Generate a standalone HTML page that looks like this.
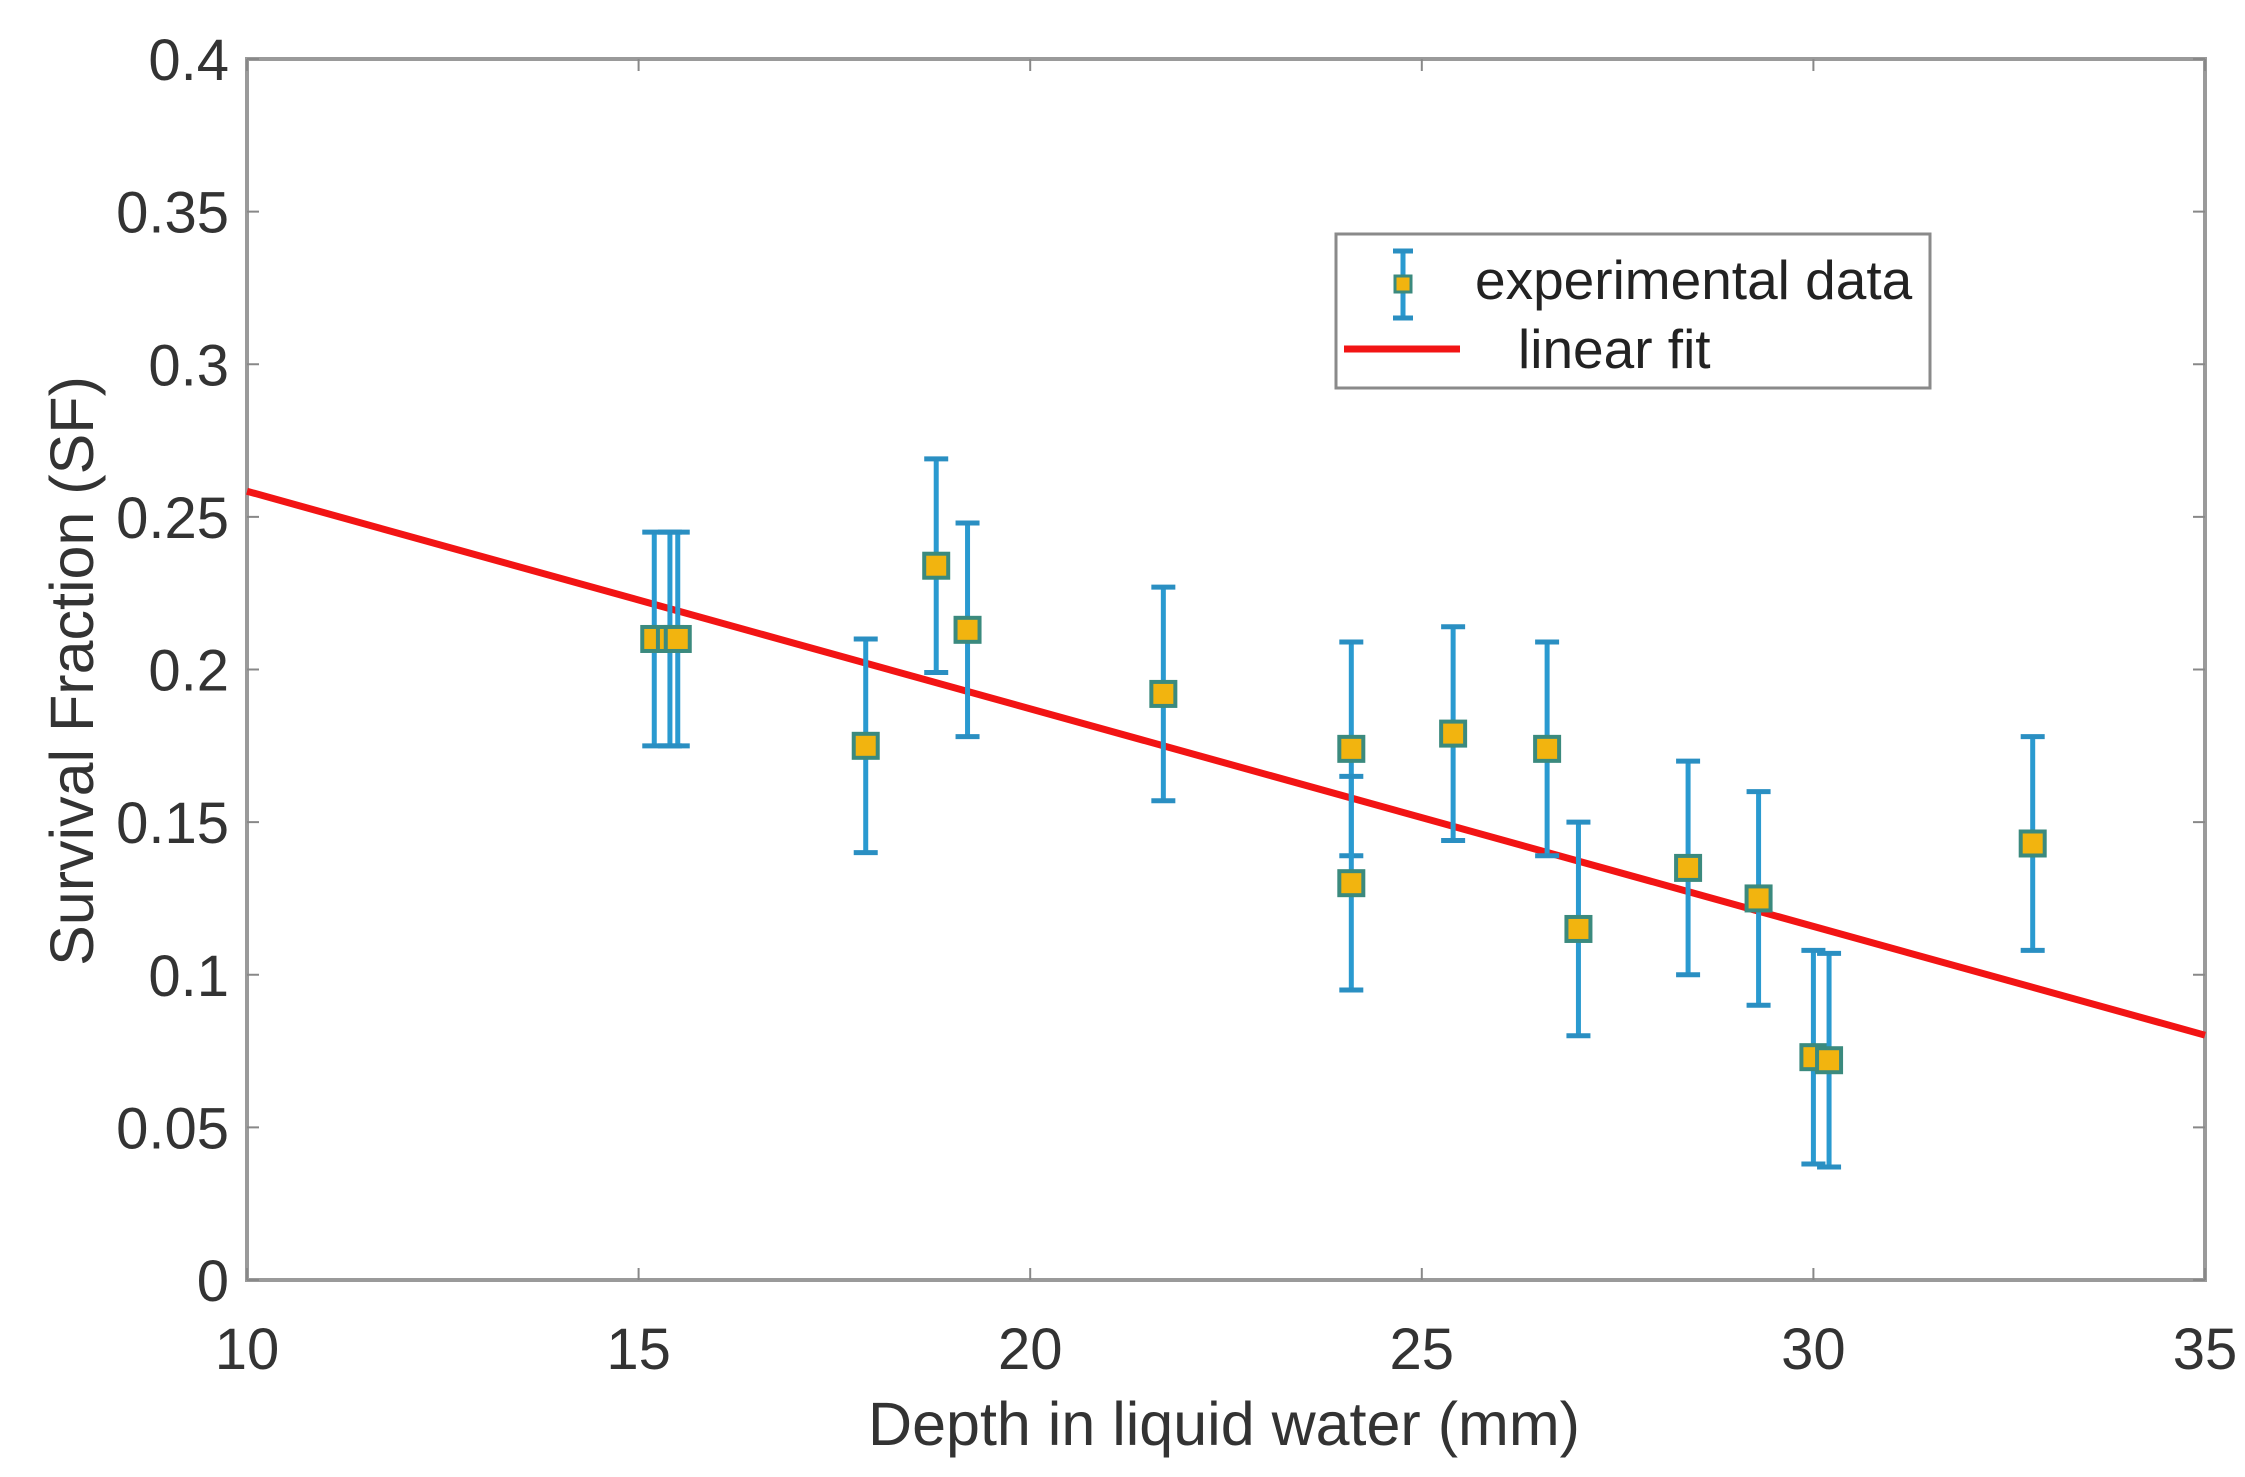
<!DOCTYPE html>
<html><head><meta charset="utf-8"><style>
html,body{margin:0;padding:0;background:#fff;}
svg{display:block;font-family:"Liberation Sans",Arial,sans-serif;}
</style></head><body>
<svg id="chart" width="2245" height="1477" viewBox="0 0 2245 1477" xmlns="http://www.w3.org/2000/svg">
<rect x="0" y="0" width="2245" height="1477" fill="#fff"/>
<g id="plot"></g>
</svg>
<script>
const depths = [15.2, 15.4, 15.5, 17.9, 18.8, 19.2, 21.7, 24.1, 24.1, 25.4, 26.6, 27.0, 28.4, 29.3, 30.0, 30.2, 32.8];
const survival = [0.210, 0.210, 0.210, 0.175, 0.234, 0.213, 0.192, 0.174, 0.130, 0.179, 0.174, 0.115, 0.135, 0.125, 0.073, 0.072, 0.143];
const errors = [0.035, 0.035, 0.035, 0.035, 0.035, 0.035, 0.035, 0.035, 0.035, 0.035, 0.035, 0.035, 0.035, 0.035, 0.035, 0.035, 0.035];
const fitX = [10, 35];
const fitY = [0.2584, 0.0802];
const xTicks = [10, 15, 20, 25, 30, 35];
const yTicks = [0, 0.05, 0.1, 0.15, 0.2, 0.25, 0.3, 0.35, 0.4];
const yTickLabels = ["0", "0.05", "0.1", "0.15", "0.2", "0.25", "0.3", "0.35", "0.4"];

const L = 247, R = 2205, T = 59, B = 1280;
const xMin = 10, xMax = 35, yMin = 0, yMax = 0.4;
function sx(v){ return L + (v - xMin) / (xMax - xMin) * (R - L); }
function sy(v){ return B - (v - yMin) / (yMax - yMin) * (B - T); }

const NS = "http://www.w3.org/2000/svg";
const g = document.getElementById('plot');
function mk(tag, attrs, parent){
  const e = document.createElementNS(NS, tag);
  for (const k in attrs) e.setAttribute(k, attrs[k]);
  (parent || g).appendChild(e);
  return e;
}

let box = mk('rect', {x:L, y:T, width:R-L, height:B-T, fill:'none', stroke:'#9a9a9a', 'stroke-width':4});



xTicks.forEach(v => {
  const x = sx(v);
  const t1 = mk('line', {x1:x, y1:B, x2:x, y2:B-12, stroke:'#888', 'stroke-width':2});
  
  
  const t2 = mk('line', {x1:x, y1:T, x2:x, y2:T+12, stroke:'#888', 'stroke-width':2});
  
  
  const tx = mk('text', {x:x, y:1369, 'text-anchor':'middle', 'font-size':58, fill:'#333'});
  tx.textContent = String(v);
  
  
});
yTicks.forEach((v, i) => {
  const y = sy(v);
  const t1 = mk('line', {x1:L, y1:y, x2:L+12, y2:y, stroke:'#888', 'stroke-width':2});
  
  
  const t2 = mk('line', {x1:R, y1:y, x2:R-12, y2:y, stroke:'#888', 'stroke-width':2});
  
  
  const tx = mk('text', {x:L-18, y:y+21, 'text-anchor':'end', 'font-size':58, fill:'#333'});
  tx.textContent = yTickLabels[i];
  
  
});

const xt = mk('text', {x:1224, y:1445, 'text-anchor':'middle', 'font-size':61, fill:'#333'});
xt.textContent = 'Depth in liquid water (mm)';


const yt = mk('text', {x:0, y:0, 'text-anchor':'middle', 'font-size':61, fill:'#333', transform:'translate(93,671) rotate(-90)'});
yt.textContent = 'Survival Fraction (SF)';



const fl = mk('line', {x1:sx(fitX[0]), y1:sy(fitY[0]), x2:sx(fitX[1]), y2:sy(fitY[1]), stroke:'#f21414', 'stroke-width':7});



depths.forEach((d, i) => {
  const x = sx(d), y = sy(survival[i]);
  const yt1 = sy(survival[i] + errors[i]), yb1 = sy(survival[i] - errors[i]);
  const eg = mk('g', {});
  
  
  mk('line', {x1:x, y1:yt1, x2:x, y2:yb1, stroke:'#2a9ad0', 'stroke-width':5}, eg);
  mk('line', {x1:x-12, y1:yt1, x2:x+12, y2:yt1, stroke:'#2a8fc2', 'stroke-width':5}, eg);
  mk('line', {x1:x-12, y1:yb1, x2:x+12, y2:yb1, stroke:'#2a8fc2', 'stroke-width':5}, eg);
  const m = mk('rect', {x:x-12, y:y-12, width:24, height:24, fill:'#f2b40f', stroke:'#3b8a7e', 'stroke-width':4});
  
  
});

const lg = mk('g', {});


mk('rect', {x:1336, y:234, width:594, height:154, fill:'#fff', stroke:'#8a8a8a', 'stroke-width':3}, lg);
const le1 = mk('g', {}, lg);


mk('line', {x1:1403, y1:251, x2:1403, y2:318, stroke:'#2a9ad0', 'stroke-width':5}, le1);
mk('line', {x1:1393, y1:251, x2:1413, y2:251, stroke:'#2a8fc2', 'stroke-width':5}, le1);
mk('line', {x1:1393, y1:318, x2:1413, y2:318, stroke:'#2a8fc2', 'stroke-width':5}, le1);
mk('rect', {x:1395, y:276, width:16, height:16, fill:'#f2b40f', stroke:'#3b8a7e', 'stroke-width':3}, le1);
const lt1 = mk('text', {x:1475, y:299, 'font-size':55, fill:'#222'}, le1);
lt1.textContent = 'experimental data';
const le2 = mk('g', {}, lg);


mk('line', {x1:1344, y1:349, x2:1460, y2:349, stroke:'#f21414', 'stroke-width':7}, le2);
const lt2 = mk('text', {x:1518, y:368, 'font-size':55, fill:'#222'}, le2);
lt2.textContent = 'linear fit';
</script>
</body></html>
